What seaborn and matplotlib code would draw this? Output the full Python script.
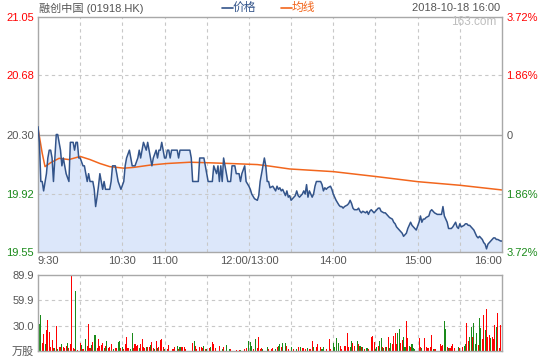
import matplotlib
matplotlib.use('Agg')
import matplotlib.pyplot as plt
from matplotlib.lines import Line2D
import numpy as np
import pandas as pd
import seaborn as sns

# minutes since 9:30, lunch break (12:00-13:00) removed -> 0..330
am_minutes = [0, 1, 2, 3, 4, 6, 7, 8, 9, 10,
              11, 13, 14, 16, 17, 18, 19, 20, 22, 23,
              25, 26, 27, 28, 29, 30, 32, 33, 34, 35,
              36, 37, 39, 40, 41, 42, 43, 44, 45, 46,
              47, 48, 51, 52, 53, 55, 56, 57, 59, 61,
              62, 63, 65, 66, 67, 69, 71, 72, 73, 74,
              75, 77, 78, 79, 80, 81, 82, 84, 85, 86,
              87, 88, 90, 91, 92, 93, 94, 95, 99, 100,
              101, 108, 109, 110, 113, 114, 115, 118, 119, 120,
              121, 124, 125, 127, 128, 129, 130, 131, 132, 133,
              135, 137, 138, 140, 141, 143, 144, 145, 147, 148,
              150]
am_prices = [20.35, 20.25, 20.00, 20.00, 19.94, 20.05, 20.15, 20.20, 20.20, 20.15,
             20.00, 20.30, 20.30, 20.20, 20.10, 20.15, 20.10, 20.05, 20.00, 20.25,
             20.25, 20.20, 20.25, 20.25, 20.15, 20.15, 20.10, 20.10, 20.05, 20.00,
             20.05, 20.00, 20.00, 19.95, 19.84, 19.90, 19.97, 20.05, 20.00, 19.95,
             20.00, 19.95, 19.95, 20.00, 20.10, 20.10, 20.05, 20.00, 19.95, 20.00,
             20.10, 20.15, 20.20, 20.15, 20.10, 20.10, 20.15, 20.20, 20.15, 20.20,
             20.25, 20.20, 20.25, 20.20, 20.15, 20.10, 20.15, 20.20, 20.15, 20.20,
             20.20, 20.25, 20.15, 20.15, 20.20, 20.20, 20.15, 20.20, 20.20, 20.15,
             20.20, 20.20, 20.15, 20.00, 20.00, 20.00, 20.15, 20.15, 20.10, 20.05,
             20.00, 20.00, 20.10, 20.05, 20.10, 20.00, 20.10, 20.00, 20.15, 20.10,
             20.00, 20.00, 20.10, 20.10, 20.05, 20.05, 20.00, 20.05, 20.10, 20.00,
             19.97]

pm_minutes = [151, 152, 154, 156, 157, 158, 160, 161, 162, 163,
              164, 165, 167, 169, 170, 171, 172, 173, 174, 176,
              177, 178, 179, 180, 182, 183, 184, 185, 186, 188,
              189, 190, 191, 192, 193, 195, 196, 197, 198, 201,
              202, 203, 204, 205, 206, 208, 209, 210, 211, 212,
              214, 215, 216, 217, 218, 220, 221, 222, 223, 224,
              225, 227, 228, 229, 230, 231, 233, 234, 235, 236,
              237, 239, 240, 241, 242, 243, 244, 246, 247, 248,
              249, 250, 252, 253, 254, 255, 256, 257, 259, 260,
              261, 262, 263, 265, 266, 267, 268, 269, 271, 272,
              273, 274, 275, 276, 278, 279, 280, 281, 282, 284,
              285, 286, 287, 288, 289, 291, 292, 293, 294, 295,
              297, 298, 299, 300, 301, 303, 304, 305, 306, 307,
              308, 310, 311, 312, 313, 314, 316, 317, 318, 319,
              320, 321, 323, 324, 325, 326, 327, 329, 330]
pm_prices = [19.95, 19.92, 19.89, 19.88, 19.91, 20.00, 20.10, 20.15, 20.10, 20.00,
             20.00, 19.96, 19.97, 19.94, 19.97, 19.95, 19.96, 19.94, 19.95, 19.91,
             19.94, 19.90, 19.91, 19.88, 19.90, 19.91, 19.94, 19.91, 19.90, 19.92,
             19.94, 19.92, 19.98, 19.90, 19.94, 19.90, 19.92, 19.97, 20.00, 20.00,
             19.98, 19.94, 19.96, 19.95, 19.96, 19.97, 19.95, 19.92, 19.90, 19.88,
             19.85, 19.84, 19.84, 19.83, 19.84, 19.85, 19.86, 19.88, 19.86, 19.83,
             19.82, 19.82, 19.83, 19.81, 19.80, 19.81, 19.80, 19.81, 19.79, 19.81,
             19.82, 19.80, 19.81, 19.82, 19.83, 19.83, 19.81, 19.80, 19.80, 19.79,
             19.78, 19.77, 19.76, 19.74, 19.73, 19.71, 19.70, 19.69, 19.67, 19.65,
             19.66, 19.67, 19.70, 19.74, 19.72, 19.71, 19.70, 19.69, 19.74, 19.78,
             19.74, 19.76, 19.76, 19.77, 19.78, 19.81, 19.82, 19.81, 19.80, 19.79,
             19.79, 19.79, 19.79, 19.84, 19.78, 19.74, 19.70, 19.70, 19.70, 19.71,
             19.74, 19.71, 19.70, 19.73, 19.71, 19.72, 19.73, 19.73, 19.72, 19.72,
             19.71, 19.69, 19.67, 19.65, 19.64, 19.65, 19.63, 19.61, 19.60, 19.57,
             19.60, 19.61, 19.63, 19.64, 19.64, 19.63, 19.63, 19.62, 19.62]

# average price line (均线)
avg_minutes = [0, 3, 5, 9, 15, 22, 30, 37, 44, 51, 61, 68, 80, 92, 108,
               120, 139, 156, 165, 179, 210, 241, 270, 300, 330]
avg_prices = [20.34, 20.18, 20.095, 20.12, 20.148, 20.14, 20.16, 20.14, 20.115,
              20.095, 20.085, 20.09, 20.105, 20.115, 20.123, 20.12, 20.114,
              20.108, 20.098, 20.08, 20.063, 20.031, 19.999, 19.976, 19.946]

# volume bars (万股), up = 1 -> red, 0 -> green
vol_minutes = [0, 1, 2, 3, 4, 5, 6, 7, 8, 9, 10, 11, 12, 13, 14, 15, 16, 17, 18, 19, 20, 21, 22, 23, 24, 25, 26, 27, 28,
               30, 31, 32, 34, 35, 36, 37, 38, 39, 40, 41, 42, 43, 44, 45, 46, 47, 48, 49, 50, 51, 52, 54, 55, 56, 57, 58, 59,
               60, 61, 62, 63, 64, 66, 67, 68, 69, 70, 71, 72, 73, 74, 75, 76, 77, 78, 79, 80, 81, 82, 83, 84, 85, 86, 87, 88, 89,
               90, 92, 93, 96, 97, 99, 100, 101, 102, 103, 104, 105, 110, 111, 112, 113, 115, 116, 117, 118, 119,
               120, 122, 123, 124, 125, 126, 129, 131, 132, 134, 136, 137, 141, 143, 144, 147, 148,
               150, 151, 152, 153, 155, 156, 157, 158, 159, 160, 163, 164,
               166, 167, 169, 170, 171, 172, 173, 174, 176, 177, 178, 180, 182, 184, 185, 187, 188, 189,
               190, 192, 193, 194, 195, 196, 198, 199, 201, 202, 203, 205, 207, 208,
               210, 211, 212, 214, 215, 216, 218, 219, 220, 221, 222, 223, 224, 225, 227, 228, 229, 230, 231, 232, 234, 235, 237, 238, 239,
               240, 241, 242, 243, 244, 245, 246, 247, 248, 249, 250, 251, 252, 253, 254, 255, 256, 257, 258, 259, 260, 261, 262, 263, 264, 265, 266, 267, 268,
               271, 272, 273, 275, 276, 277, 278, 279, 280, 281, 282, 283, 286, 287, 288, 289, 290, 291, 292, 293, 294, 295, 296, 299,
               300, 302, 303, 304, 305, 306, 307, 308, 309, 310, 311, 312, 313, 314, 315, 316, 317, 318, 319, 320, 321, 322, 323, 324, 325, 326, 327, 328, 329]
vol_values = [20.8, 31.8, 42.4, 9.0, 20.0, 8.2, 24.7, 36.5, 22.4, 4.3, 13.0, 3.1, 3.1, 29.4, 2.0, 4.3, 5.1, 8.2, 4.3, 3.1, 5.9, 9.0, 3.1, 8.2, 89.9, 3.1, 2.0, 71.1, 1.2,
              9.0, 7.1, 2.0, 13.7, 5.9, 31.8, 3.1, 7.1, 11.0, 18.5, 18.5, 3.1, 14.5, 5.9, 7.1, 9.0, 3.1, 5.9, 12.2, 3.1, 5.1, 8.2, 2.0, 3.1, 3.1, 11.0, 11.8, 3.1,
              4.3, 2.0, 8.2, 16.9, 3.1, 2.7, 20.8, 3.1, 8.2, 5.9, 6.7, 3.1, 8.2, 13.7, 4.3, 3.1, 5.1, 4.3, 4.3, 6.7, 11.0, 3.1, 2.0, 11.4, 3.1, 4.3, 13.0, 13.7, 4.3,
              2.0, 2.0, 7.1, 2.0, 4.3, 5.9, 2.0, 4.3, 5.1, 4.3, 4.3, 2.0, 9.0, 11.8, 5.9, 2.0, 4.3, 4.3, 3.1, 5.9, 2.0,
              2.0, 3.1, 4.3, 11.0, 8.2, 3.1, 5.9, 2.0, 4.3, 6.7, 2.0, 2.0, 1.2, 1.2, 1.2, 2.0, 3.1,
              11.8, 11.0, 5.9, 2.0, 13.7, 3.1, 16.1, 2.0, 3.1, 2.0, 4.3, 2.0,
              2.4, 3.1, 2.0, 4.3, 5.9, 8.2, 4.3, 9.0, 9.8, 5.9, 2.0, 4.3, 2.0, 2.0, 4.3, 5.1, 3.5, 3.1,
              2.0, 3.1, 2.7, 2.0, 11.8, 4.3, 4.3, 8.2, 4.3, 2.0, 4.3, 2.0, 13.7, 2.0,
              9.8, 4.3, 14.9, 9.0, 5.9, 2.0, 5.9, 5.9, 21.6, 5.1, 4.3, 12.2, 9.0, 5.9, 12.2, 8.2, 5.9, 4.3, 4.3, 2.0, 3.1, 2.0, 16.9, 17.7, 11.0,
              2.0, 4.3, 5.9, 11.8, 14.9, 4.3, 3.1, 5.1, 5.1, 16.1, 3.1, 9.0, 8.2, 17.7, 20.8, 8.2, 20.8, 25.5, 9.8, 13.0, 16.9, 5.1, 35.7, 14.9, 5.9, 5.1, 8.2, 3.1, 2.0,
              14.9, 5.1, 3.1, 15.7, 4.3, 3.1, 3.1, 4.3, 18.8, 2.0, 2.0, 2.0, 8.2, 5.9, 7.5, 35.7, 25.5, 4.3, 3.1, 3.1, 5.9, 8.2, 3.1, 4.3,
              3.1, 5.1, 5.9, 8.2, 33.4, 12.2, 16.9, 28.7, 16.9, 32.6, 8.2, 20.8, 7.1, 38.5, 26.7, 13.7, 42.4, 24.7, 49.1, 16.9, 18.8, 14.9, 16.9, 13.7, 30.6, 27.9, 45.1, 3.1, 30.6]
vol_up = [1, 0, 0, 1, 1, 0, 1, 1, 1, 1, 1, 1, 0, 1, 0, 1, 1, 0, 1, 1, 1, 0, 1, 1, 1, 1, 1, 0, 1,
          1, 0, 1, 0, 1, 1, 1, 0, 1, 0, 0, 1, 1, 1, 1, 1, 0, 1, 0, 1, 1, 1, 0, 1, 1, 0, 0, 1,
          0, 1, 1, 1, 1, 0, 0, 1, 1, 1, 1, 0, 1, 1, 1, 1, 0, 1, 1, 0, 1, 1, 0, 1, 0, 1, 1, 1, 1,
          0, 1, 1, 1, 1, 0, 1, 0, 1, 1, 1, 1, 1, 0, 1, 1, 1, 1, 1, 0, 1,
          0, 1, 0, 1, 1, 1, 1, 0, 1, 0, 0, 1, 1, 1, 0, 1, 1,
          0, 0, 0, 1, 0, 1, 1, 1, 1, 0, 0, 1,
          1, 1, 0, 1, 0, 0, 1, 0, 0, 1, 1, 0, 1, 0, 1, 0, 1, 1,
          1, 0, 1, 1, 1, 0, 1, 1, 1, 0, 0, 1, 1, 1,
          0, 0, 0, 0, 1, 1, 1, 1, 1, 1, 0, 0, 1, 1, 0, 1, 0, 1, 0, 1, 0, 1, 1, 1, 1,
          0, 0, 1, 0, 0, 1, 0, 1, 0, 1, 0, 0, 1, 1, 1, 1, 0, 0, 1, 1, 0, 0, 1, 1, 0, 1, 0, 0, 0,
          1, 1, 0, 1, 1, 1, 1, 1, 1, 0, 1, 1, 1, 1, 1, 0, 0, 1, 0, 1, 1, 1, 1, 0,
          1, 1, 0, 0, 1, 1, 0, 0, 1, 0, 0, 0, 1, 0, 0, 1, 1, 0, 1, 1, 1, 0, 1, 1, 1, 0, 1, 1, 1]

prev_close = 20.30
price_ticks = [19.55, 19.92, 20.30, 20.68, 21.05]
price_labels = ['19.55', '19.92', '20.30', '20.68', '21.05']
pct_labels = ['3.72%', '1.86%', '0', '1.86%', '3.72%']
vol_ticks = [0, 30.0, 59.9, 89.9]
vol_labels = ['万股', '30.0', '59.9', '89.9']
time_ticks = [0, 60, 90, 150, 210, 270, 330]
time_labels = ['9:30', '10:30', '11:00', '12:00/13:00', '14:00', '15:00', '16:00']

RED = '#ff0000'
GREEN = '#1a8a1a'
GRAY = '#555555'
BLUE = '#33548a'
ORANGE = '#f2661d'
FILL = '#dce7fa'
FRAME = '#a8a8a8'
GRID = '#c8c8c8'

sns.set_style('white')
plt.rcParams['font.family'] = ['Liberation Sans', 'Noto Sans CJK SC']
plt.rcParams['font.size'] = 8

W, H = 540, 360
fig = plt.figure(figsize=(W / 100, H / 100), dpi=100)
ax = fig.add_axes([38 / W, 1 - 252 / H, 464 / W, 235 / H])
axv = fig.add_axes([38 / W, 1 - 351 / H, 464 / W, 76 / H])

price_df = pd.DataFrame({'minute': am_minutes + pm_minutes,
                         'price': am_prices + pm_prices})
vol_df = pd.DataFrame({'minute': vol_minutes, 'volume': vol_values,
                       'dir': ['up' if u else 'down' for u in vol_up]})

# --- price panel ---
ax.fill_between(price_df['minute'], price_df['price'], price_ticks[0],
                color=FILL, lw=0, zorder=1)
for m in range(30, 330, 30):
    ax.axvline(m, color=GRID, lw=0.8, ls=(0, (3, 3)), zorder=1.5)
for v in (price_ticks[1], price_ticks[3]):
    ax.axhline(v, color=GRID, lw=0.8, ls=(0, (3, 3)), zorder=1.5)
ax.axhline(prev_close, color=FRAME, lw=1, zorder=1.5)
sns.lineplot(data=price_df, x='minute', y='price', color=BLUE, lw=1.1,
             ax=ax, zorder=3)
sns.lineplot(x=avg_minutes, y=avg_prices, color=ORANGE, lw=1.1, ax=ax, zorder=2.5)

ax.set_xlim(0, 330)
ax.set_ylim(price_ticks[0], price_ticks[-1])
ax.set_xlabel('')
ax.set_ylabel('')
ax.set_yticks(price_ticks)
ax.set_yticklabels(price_labels)
ax.set_xticks(time_ticks)
ax.set_xticklabels(time_labels)
xl = ax.get_xticklabels()
xl[0].set_horizontalalignment('left')
xl[-1].set_horizontalalignment('right')
ax.tick_params(length=0, pad=3, labelsize=8, labelcolor=GRAY)
for lbl, c in zip(ax.get_yticklabels(), [GREEN, GREEN, GRAY, RED, RED]):
    lbl.set_color(c)
for s in ax.spines.values():
    s.set_color(FRAME)
    s.set_linewidth(1)

axr = ax.twinx()
axr.set_ylim(price_ticks[0], price_ticks[-1])
axr.set_yticks(price_ticks)
axr.set_yticklabels(pct_labels)
axr.tick_params(length=0, pad=3, labelsize=8)
for lbl, c in zip(axr.get_yticklabels(), [GREEN, GREEN, GRAY, RED, RED]):
    lbl.set_color(c)
for s in axr.spines.values():
    s.set_visible(False)

# --- volume panel ---
for m in range(30, 330, 30):
    axv.axvline(m, color=GRID, lw=0.8, ls=(0, (3, 3)), zorder=0)
for v in vol_ticks[1:3]:
    axv.axhline(v, color=GRID, lw=0.8, ls=(0, (3, 3)), zorder=0)
sns.barplot(data=vol_df, x='minute', y='volume', hue='dir',
            palette={'up': RED, 'down': GREEN}, native_scale=True, dodge=False,
            width=0.75, errorbar=None, legend=False, saturation=1,
            linewidth=0, ax=axv)
axv.set_xlim(0, 330)
axv.set_ylim(0, vol_ticks[-1])
axv.set_xticks([])
axv.set_xlabel('')
axv.set_ylabel('')
axv.set_yticks(vol_ticks)
axv.set_yticklabels(vol_labels)
axv.tick_params(length=0, pad=3, labelsize=8, labelcolor=GRAY)
for s in axv.spines.values():
    s.set_color(FRAME)
    s.set_linewidth(1)

# --- header ---
ty = 1 - 8 / H
fig.text(39 / W, ty, '融创中国 (01918.HK)', color=GRAY, fontsize=8, va='center')
fig.add_artist(Line2D([222 / W, 233 / W], [ty, ty], color=BLUE, lw=1.2))
fig.text(233 / W, ty, '价格', color=BLUE, fontsize=8.5, va='center')
fig.add_artist(Line2D([281 / W, 292 / W], [ty, ty], color=ORANGE, lw=1.2))
fig.text(292 / W, ty, '均线', color=ORANGE, fontsize=8.5, va='center')
fig.text(500 / W, ty, '2018-10-18 16:00', color=GRAY, fontsize=8,
         va='center', ha='right')
fig.text(496 / W, 1 - 22 / H, '163.com', color='#bdbdbd', fontsize=8.5,
         va='center', ha='right')

fig.savefig('out.png', dpi=100)
